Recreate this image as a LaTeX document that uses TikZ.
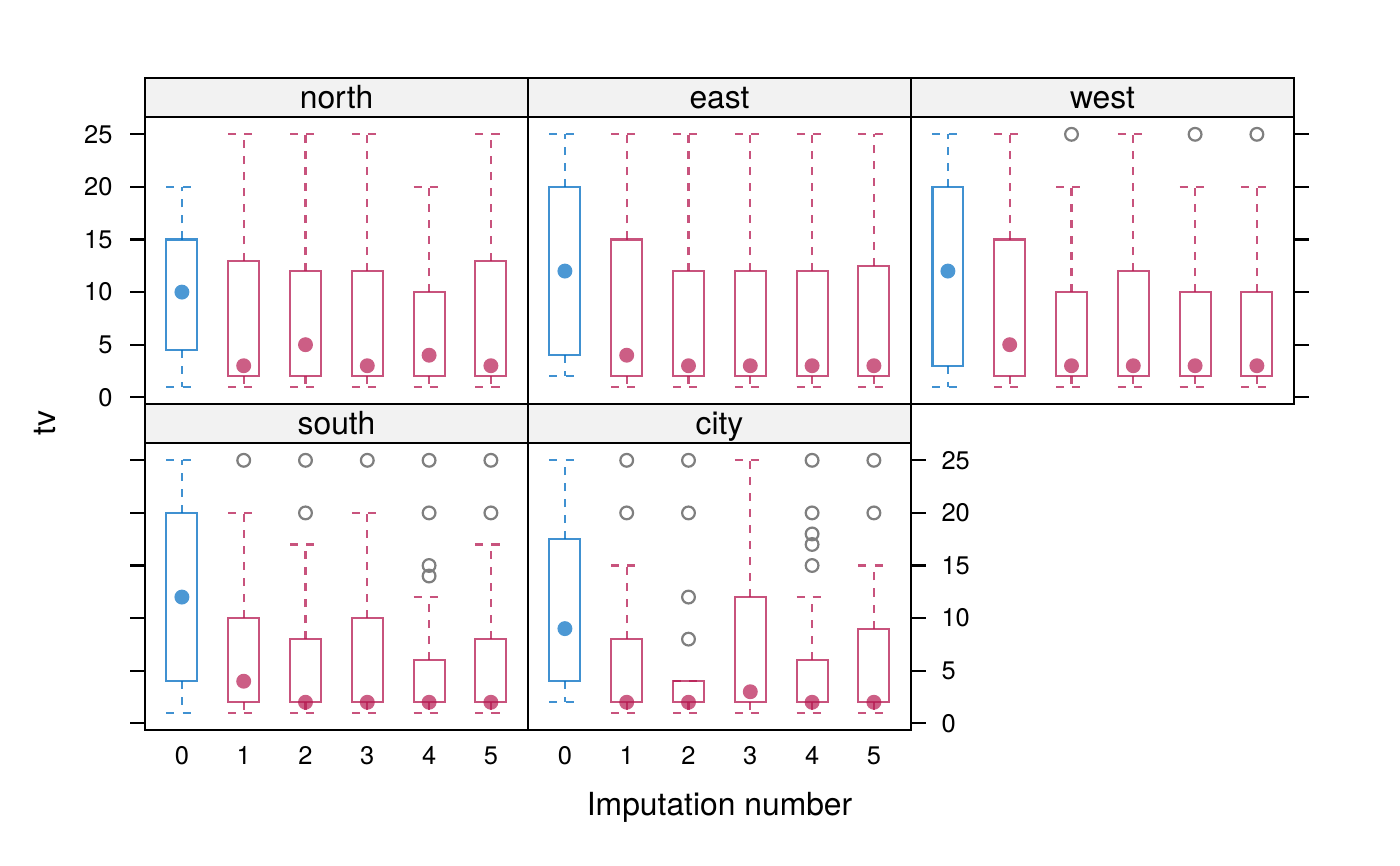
\documentclass[tikz,border=0pt]{standalone}
\usepackage{fontspec}
\setmainfont{TeX Gyre Heros}
\usepackage{tikz}
\usetikzlibrary{calc}
\usepackage{xcolor}

\definecolor{impblue}{HTML}{006CC2}
\definecolor{impred}{HTML}{B61A51}
\definecolor{stripgray}{HTML}{F2F2F2}
\definecolor{outgray}{HTML}{7F7F7F}

% one box: position, lower whisker, q1, q3, upper whisker, median, colour
\newcommand{\bwbox}[7]{%
  \draw[boxline, #7] (#1-0.25,#3) rectangle (#1+0.25,#4);
  \draw[whisk, #7] (#1,#4) -- (#1,#5) (#1,#3) -- (#1,#2)
    (#1-0.25,#5) -- (#1+0.25,#5) (#1-0.25,#2) -- (#1+0.25,#2);
  \fill[meddot, #7] (#1,#6) circle (2.7pt);
}

\begin{document}
\begin{tikzpicture}[x=0.36135pt, y=-0.36135pt,
    every node/.style={font=\fontsize{11.5}{13.8}\selectfont},
    frame/.style={draw=black, line width=0.75pt},
    strip/.style={fill=stripgray, draw=black, line width=0.75pt},
    striplab/.style={anchor=base, inner sep=0pt},
    tick/.style={line width=0.75pt},
    ticklab/.style={font=\fontsize{9.2}{11}\selectfont, inner sep=0pt},
    boxline/.style={line width=0.75pt, draw opacity=0.75},
    whisk/.style={boxline, dash pattern=on 2.9pt off 2.9pt},
    meddot/.style={fill opacity=0.7},
    outl/.style={draw=outgray, line width=0.8pt}]

    \useasboundingbox (0,0) rectangle (1400,866);

    % strips
    \foreach \name/\px/\py in {north/145/78, east/528/78, west/911/78, south/145/404, city/528/404} {
        \draw[strip] (\px,\py) rectangle ++(383,39);
        \node[striplab] (lab\name) at (\px+191.5,\py+30.3) {\name};
    }

    % north
    \begin{scope}[shift={(181.9,397.3)}, x=22.33pt, y=3.801pt]
        \foreach \i/\lo/\qa/\qb/\hi/\md/\c in {0/1/4.5/15/20/10/impblue, 1/1/2/13/25/3/impred,
            2/1/2/12/25/5/impred, 3/1/2/12/25/3/impred, 4/1/2/10/20/4/impred, 5/1/2/13/25/3/impred}
            \bwbox{\i}{\lo}{\qa}{\qb}{\hi}{\md}{\c};
    \end{scope}

    % east
    \begin{scope}[shift={(564.9,397.3)}, x=22.33pt, y=3.801pt]
        \foreach \i/\lo/\qa/\qb/\hi/\md/\c in {0/2/4/20/25/12/impblue, 1/1/2/15/25/4/impred,
            2/1/2/12/25/3/impred, 3/1/2/12/25/3/impred, 4/1/2/12/25/3/impred, 5/1/2/12.5/25/3/impred}
            \bwbox{\i}{\lo}{\qa}{\qb}{\hi}{\md}{\c};
    \end{scope}

    % west
    \begin{scope}[shift={(947.9,397.3)}, x=22.33pt, y=3.801pt]
        \foreach \i/\lo/\qa/\qb/\hi/\md/\c in {0/1/3/20/25/12/impblue, 1/1/2/15/25/5/impred,
            2/1/2/10/20/3/impred, 3/1/2/12/25/3/impred, 4/1/2/10/20/3/impred, 5/1/2/10/20/3/impred}
            \bwbox{\i}{\lo}{\qa}{\qb}{\hi}{\md}{\c};
        \foreach \i/\v in {2/25, 4/25, 5/25}
            \draw[outl] (\i,\v) circle (2.3pt);
    \end{scope}

    % south
    \begin{scope}[shift={(181.9,723.3)}, x=22.33pt, y=3.801pt]
        \foreach \i/\lo/\qa/\qb/\hi/\md/\c in {0/1/4/20/25/12/impblue, 1/1/2/10/20/4/impred,
            2/1/2/8/17/2/impred, 3/1/2/10/20/2/impred, 4/1/2/6/12/2/impred, 5/1/2/8/17/2/impred}
            \bwbox{\i}{\lo}{\qa}{\qb}{\hi}{\md}{\c};
        \foreach \i/\v in {1/25, 2/25, 2/20, 3/25, 4/25, 4/20, 4/15, 4/14, 5/25, 5/20}
            \draw[outl] (\i,\v) circle (2.3pt);
    \end{scope}

    % city
    \begin{scope}[shift={(564.9,723.3)}, x=22.33pt, y=3.801pt]
        \foreach \i/\lo/\qa/\qb/\hi/\md/\c in {0/2/4/17.5/25/9/impblue, 1/1/2/8/15/2/impred,
            2/1/2/4/4/2/impred, 3/1/2/12/25/3/impred, 4/1/2/6/12/2/impred, 5/1/2/9/15/2/impred}
            \bwbox{\i}{\lo}{\qa}{\qb}{\hi}{\md}{\c};
        \foreach \i/\v in {1/25, 1/20, 2/25, 2/20, 2/12, 2/8, 4/25, 4/20, 4/18, 4/17, 4/15, 5/25, 5/20}
            \draw[outl] (\i,\v) circle (2.3pt);
    \end{scope}

    % panel frames
    \foreach \px/\py in {145/117, 528/117, 911/117, 145/443, 528/443}
        \draw[frame] (\px,\py) rectangle ++(383,287);

    % y axes
    \foreach \v in {0,5,...,25} {
        \draw[tick] (130,397.3-10.52*\v) -- (145,397.3-10.52*\v);
        \node[ticklab, anchor=east] (yl\v) at (113,397.3-10.52*\v) {\v};
        \draw[tick] (130,723.3-10.52*\v) -- (145,723.3-10.52*\v);
        \draw[tick] (1294,397.3-10.52*\v) -- (1309,397.3-10.52*\v);
        \draw[tick] (911,723.3-10.52*\v) -- (926,723.3-10.52*\v);
        \node[ticklab, anchor=west] (yr\v) at (941,723.3-10.52*\v) {\v};
    }

    % x axis
    \foreach \i in {0,...,5} {
        \node[ticklab] (xs\i) at (181.9+61.8*\i,755.5) {\i};
        \node[ticklab] (xc\i) at (564.9+61.8*\i,755.5) {\i};
    }

    \node[anchor=base, inner sep=0pt] (xlab) at (719.5,816) {Imputation number};
    \node[anchor=base, inner sep=0pt, rotate=90] (ylab) at (55,423) {tv};

\end{tikzpicture}
\end{document}
